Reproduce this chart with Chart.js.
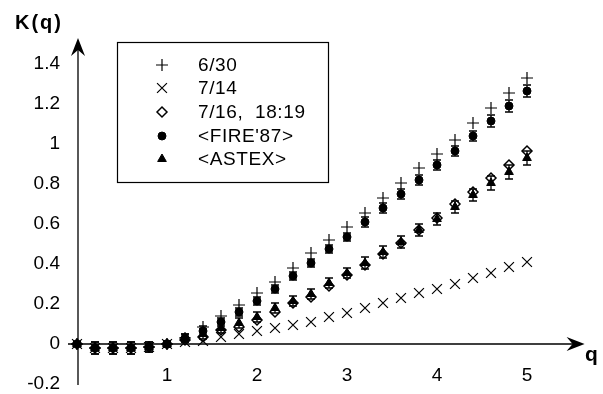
<!DOCTYPE html>
<html>
<head>
<meta charset="utf-8">
<script src="https://cdn.jsdelivr.net/npm/chart.js@4/dist/chart.umd.min.js"></script>
<style>
  body { margin: 0; background: #fff; }
  #wrap { position: relative; width: 603px; height: 394px; }
</style>
</head>
<body>
<div id="wrap"><canvas id="grafico"></canvas></div>
<script>
// valores
const qValores = [0, 0.2, 0.4, 0.6, 0.8, 1.0, 1.2, 1.4, 1.6, 1.8, 2.0, 2.2, 2.4, 2.6, 2.8, 3.0, 3.2, 3.4, 3.6, 3.8, 4.0, 4.2, 4.4, 4.6, 4.8, 5.0];

const rotulos = ['6/30', '7/14', '7/16,  18:19', "<FIRE'87>", '<ASTEX>'];

const k0630 = [0, -0.02, -0.02, -0.02, -0.015, 0, 0.03, 0.085, 0.14, 0.195, 0.255, 0.31, 0.38, 0.455, 0.52, 0.585, 0.655, 0.73, 0.805, 0.88, 0.95, 1.02, 1.105, 1.18, 1.255, 1.33];
const k0714 = [0, -0.02, -0.02, -0.02, -0.015, 0, 0.01, 0.015, 0.035, 0.05, 0.065, 0.08, 0.095, 0.11, 0.135, 0.155, 0.18, 0.205, 0.23, 0.255, 0.275, 0.3, 0.33, 0.355, 0.385, 0.41];
const k0716 = [0, -0.02, -0.02, -0.02, -0.015, 0, 0.02, 0.035, 0.07, 0.085, 0.12, 0.16, 0.205, 0.235, 0.29, 0.345, 0.395, 0.45, 0.505, 0.57, 0.63, 0.7, 0.76, 0.83, 0.895, 0.965];
const kFire = [0, -0.02, -0.02, -0.02, -0.015, 0, 0.03, 0.065, 0.11, 0.16, 0.215, 0.275, 0.34, 0.405, 0.475, 0.535, 0.61, 0.68, 0.75, 0.82, 0.895, 0.965, 1.04, 1.115, 1.19, 1.265];
const kAstex = [0, -0.02, -0.02, -0.02, -0.015, 0, 0.03, 0.05, 0.08, 0.105, 0.135, 0.18, 0.215, 0.25, 0.305, 0.355, 0.405, 0.46, 0.51, 0.57, 0.625, 0.685, 0.745, 0.805, 0.86, 0.93];

// barras de erro (meia altura)
const erroFire = [0.01, 0.03, 0.03, 0.03, 0.025, 0.015, 0.02, 0.025, 0.02, 0.02, 0.02, 0.02, 0.02, 0.02, 0.02, 0.02, 0.025, 0.025, 0.025, 0.025, 0.025, 0.025, 0.025, 0.03, 0.03, 0.03];
const erroAstex = [0.01, 0.03, 0.03, 0.03, 0.025, 0.015, 0.02, 0.025, 0.025, 0.025, 0.025, 0.025, 0.025, 0.025, 0.025, 0.025, 0.03, 0.03, 0.03, 0.03, 0.03, 0.03, 0.03, 0.035, 0.035, 0.035];

const xTicks = [1, 2, 3, 4, 5];
const yTicks = [-0.2, 0, 0.2, 0.4, 0.6, 0.8, 1, 1.2, 1.4];
const yTickLabels = ['-0.2', '0', '0.2', '0.4', '0.6', '0.8', '1', '1.2', '1.4'];

function pontos(valores) {
    return qValores.map((q, i) => ({ x: q, y: valores[i] }));
}

const estilos = [
    { pointStyle: 'cross', radius: 6, borderWidth: 1.2, bg: 'transparent' },
    { pointStyle: 'crossRot', radius: 7, borderWidth: 1.2, bg: 'transparent' },
    { pointStyle: 'rectRot', radius: 5, borderWidth: 1.5, bg: 'transparent' },
    { pointStyle: 'circle', radius: 4, borderWidth: 1, bg: '#000' },
    { pointStyle: 'triangle', radius: 5, borderWidth: 1, bg: '#000' }
];
const series = [k0630, k0714, k0716, kFire, kAstex];
const erros = [null, null, null, erroFire, erroAstex];

const datasets = series.map((s, i) => ({
    label: rotulos[i],
    data: pontos(s),
    showLine: false,
    clip: false,
    pointStyle: estilos[i].pointStyle,
    pointRadius: estilos[i].radius,
    pointBorderWidth: estilos[i].borderWidth,
    pointBorderColor: '#000',
    pointBackgroundColor: estilos[i].bg,
    erros: erros[i]
}));

const fonte = "'Liberation Sans', Arial, sans-serif";

function seta(ctx, x, y, ang) {
    ctx.save();
    ctx.translate(x, y);
    ctx.rotate(ang);
    ctx.beginPath();
    ctx.moveTo(0, 0);
    ctx.lineTo(-18, -7);
    ctx.lineTo(-12, 0);
    ctx.lineTo(-18, 7);
    ctx.closePath();
    ctx.fillStyle = '#000';
    ctx.fill();
    ctx.restore();
}

const eixosPlugin = {
    id: 'eixos',
    beforeDatasetsDraw(chart) {
        const { ctx, scales: { x, y }, chartArea } = chart;
        const y0 = y.getPixelForValue(0);
        const x0 = x.getPixelForValue(0);
        const xIni = x.getPixelForValue(-0.1);
        const xFim = x.getPixelForValue(5.64);
        ctx.save();
        ctx.strokeStyle = '#000';
        ctx.lineWidth = 1.3;
        ctx.beginPath();
        ctx.moveTo(xIni, y0);
        ctx.lineTo(xFim - 10, y0);
        ctx.moveTo(x0 + 1, chartArea.bottom);
        ctx.lineTo(x0 + 1, chartArea.top + 10);
        ctx.stroke();
        seta(ctx, xFim, y0, 0);
        seta(ctx, x0 + 1, chartArea.top, -Math.PI / 2);

        ctx.fillStyle = '#000';
        ctx.textBaseline = 'alphabetic';
        ctx.font = 'bold 20px ' + fonte;
        ctx.letterSpacing = '2px';
        ctx.fillText('K(q)', 15, 29);
        ctx.letterSpacing = '0px';
        ctx.font = 'bold 21px ' + fonte;
        ctx.fillText('q', 585, 361);
        ctx.restore();
    },
    afterDatasetsDraw(chart) {
        const { ctx, scales: { y } } = chart;
        ctx.save();
        ctx.strokeStyle = '#000';
        ctx.lineWidth = 1.3;
        chart.data.datasets.forEach((ds, i) => {
            if (!ds.erros) return;
            const meta = chart.getDatasetMeta(i);
            meta.data.forEach((p, j) => {
                const v = ds.data[j].y;
                const yTop = y.getPixelForValue(v + ds.erros[j]);
                const yBot = y.getPixelForValue(v - ds.erros[j]);
                ctx.beginPath();
                ctx.moveTo(p.x, yTop);
                ctx.lineTo(p.x, yBot);
                ctx.moveTo(p.x - 4, yTop);
                ctx.lineTo(p.x + 4, yTop);
                ctx.moveTo(p.x - 4, yBot);
                ctx.lineTo(p.x + 4, yBot);
                ctx.stroke();
            });
        });
        ctx.restore();
    },
    afterDraw(chart) {
        const { ctx } = chart;
        ctx.save();
        ctx.strokeStyle = '#000';
        ctx.lineWidth = 1.2;
        ctx.strokeRect(117.5, 42.5, 211, 140);
        const linhas = [65, 88, 112, 136, 159];
        chart.data.datasets.forEach((ds, i) => {
            const opts = {
                pointStyle: ds.pointStyle,
                radius: ds.pointRadius,
                borderWidth: ds.pointBorderWidth,
                rotation: 0
            };
            ctx.strokeStyle = '#000';
            ctx.fillStyle = ds.pointBackgroundColor;
            ctx.lineWidth = ds.pointBorderWidth;
            Chart.helpers.drawPoint(ctx, opts, 162, linhas[i]);
            ctx.fillStyle = '#000';
            ctx.font = '19px ' + fonte;
            ctx.letterSpacing = '0.6px';
            ctx.textBaseline = 'middle';
            ctx.fillText(ds.label, 198, linhas[i] + 1);
        });
        ctx.restore();
    }
};

new Chart(document.getElementById('grafico'), {
    type: 'scatter',
    data: { datasets: datasets },
    options: {
        responsive: true,
        maintainAspectRatio: false,
        animation: false,
        events: [],
        layout: { padding: { left: 0, right: 17.5, top: 38, bottom: 9 } },
        plugins: { legend: { display: false }, tooltip: { enabled: false } },
        scales: {
            x: {
                type: 'linear',
                position: { y: 0 },
                min: 0,
                max: 5.65,
                grid: { display: false, drawTicks: false },
                border: { display: false },
                afterBuildTicks: scale => { scale.ticks = xTicks.map(v => ({ value: v })); },
                ticks: { color: '#000', font: { family: fonte, size: 19 }, padding: 20 }
            },
            y: {
                type: 'linear',
                position: 'left',
                min: -0.205,
                max: 1.53,
                grid: { display: false, drawTicks: false },
                border: { display: false },
                afterBuildTicks: scale => { scale.ticks = yTicks.map(v => ({ value: v })); },
                afterFit: scale => { scale.width = 77; scale.paddingTop = 0; scale.paddingBottom = 0; },
                ticks: {
                    color: '#000',
                    font: { family: fonte, size: 19 },
                    padding: 17,
                    callback: (v, i) => yTickLabels[i]
                }
            }
        }
    },
    plugins: [eixosPlugin]
});
</script>
</body>
</html>
